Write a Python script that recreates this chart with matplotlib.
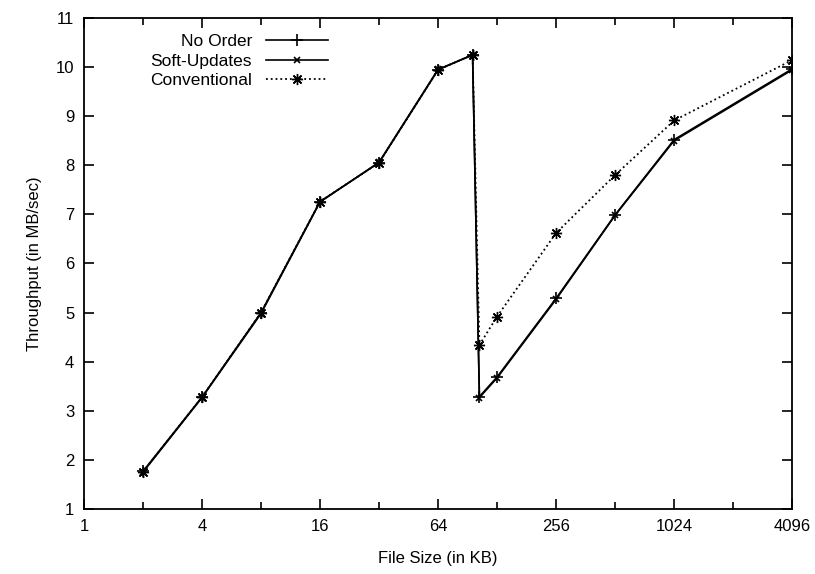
import matplotlib
matplotlib.use('Agg')
import matplotlib.pyplot as plt
from matplotlib.ticker import NullFormatter

plt.rcParams['font.family'] = ['Liberation Sans', 'DejaVu Sans']

# file sizes in KB
sizes = [2, 4, 8, 16, 32, 64, 96, 104, 128, 256, 512, 1024, 4096]

# throughput (MB/sec)
no_order = [1.77, 3.28, 5.0, 7.26, 8.05, 9.94, 10.25, 3.29, 3.69, 5.29, 6.99, 8.52, 9.96]
soft_updates = [1.75, 3.27, 4.98, 7.25, 8.06, 9.95, 10.24, 3.27, 3.67, 5.27, 6.98, 8.50, 9.94]
conventional = [1.76, 3.28, 5.0, 7.26, 8.05, 9.94, 10.25, 4.34, 4.92, 6.62, 7.80, 8.91, 10.14]

x_ticks = [1, 4, 16, 64, 256, 1024, 4096]
x_minor = [2, 8, 32, 128, 512, 2048]
y_ticks = list(range(1, 12))

fig = plt.figure(figsize=(8.15, 5.74), dpi=100)
ax = fig.add_axes([0.103, 0.113, 0.869, 0.856])

ax.plot(sizes, no_order, '-', color='k', lw=1.2, marker='+', ms=9, mew=1.2, label='No Order')
ax.plot(sizes, soft_updates, '-', color='k', lw=1.2, marker='x', ms=4, mew=1.2, label='Soft-Updates')
ax.plot(sizes, conventional, ':', color='k', lw=1.3, marker=(8, 2, 0), ms=8, mew=1.0, label='Conventional')

ax.set_xscale('log', base=2)
ax.set_xlim(1, 4096)
ax.set_ylim(1, 11)
ax.set_xticks(x_ticks)
ax.set_xticklabels([str(t) for t in x_ticks])
ax.set_xticks(x_minor, minor=True)
ax.xaxis.set_minor_formatter(NullFormatter())
ax.set_yticks(y_ticks)

ax.tick_params(which='both', direction='in', top=True, right=True, labelsize=12, width=1.2, pad=7)
ax.tick_params(which='major', length=7)
ax.tick_params(which='minor', length=5)
for s in ax.spines.values():
    s.set_linewidth(1.3)

ax.set_xlabel('File Size (in KB)', fontsize=12, labelpad=12)
ax.set_ylabel('Throughput (in MB/sec)', fontsize=12, labelpad=10)

ax.legend(loc='upper right', bbox_to_anchor=(0.345, 0.967), frameon=False, markerfirst=False,
          fontsize=12.5, handlelength=3.6, handletextpad=0.8, labelspacing=0.25,
          borderaxespad=0.0, borderpad=0.0)

fig.savefig('out.png', dpi=100)
